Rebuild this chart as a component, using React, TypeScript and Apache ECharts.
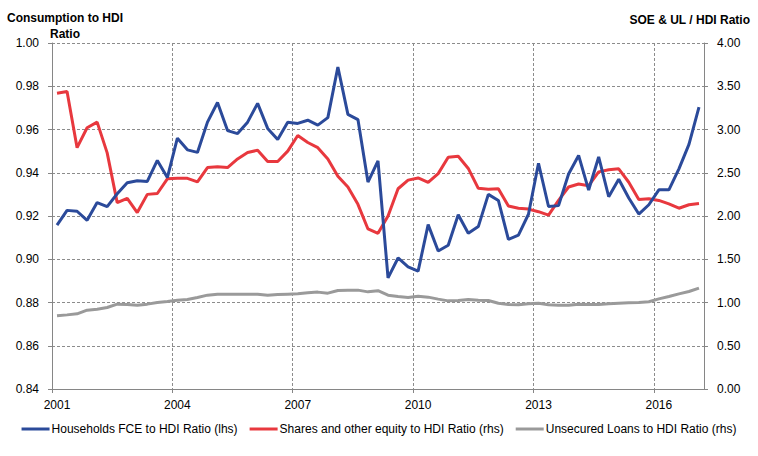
import React, { useEffect, useRef } from "react";
import * as echarts from "echarts";

const firstYear = 2001;
const yearLabels = ["2001", "2004", "2007", "2010", "2013", "2016"];

// Households FCE to HDI Ratio (lhs), quarterly 2001 Q1 - 2017 Q1
const householdsFce = [
  0.9158, 0.9226, 0.9222, 0.918, 0.9262, 0.9243, 0.9303, 0.9354, 0.9363, 0.936,
  0.9457, 0.9378, 0.956, 0.9506, 0.9494, 0.9634, 0.9725, 0.9595, 0.9581, 0.9634,
  0.9721, 0.9605, 0.9554, 0.9634, 0.9628, 0.9643, 0.962, 0.9655, 0.9889, 0.967,
  0.9646, 0.9357, 0.9455, 0.8914, 0.9006, 0.8965, 0.8945, 0.916, 0.9038, 0.9065,
  0.9206, 0.912, 0.9151, 0.93, 0.9272, 0.9092, 0.9112, 0.9208, 0.9444, 0.9244,
  0.9248, 0.9394, 0.948, 0.932, 0.9473, 0.9289, 0.937, 0.9283, 0.9209, 0.9252,
  0.9321, 0.9321, 0.9418, 0.9531, 0.9703,
];

// Shares and other equity to HDI Ratio (rhs)
const sharesEquity = [
  3.42, 3.44, 2.79, 3.02, 3.085, 2.73, 2.155, 2.205, 2.04, 2.25,
  2.26, 2.43, 2.435, 2.435, 2.395, 2.56, 2.57, 2.56, 2.66, 2.735,
  2.76, 2.63, 2.63, 2.75, 2.93, 2.85, 2.79, 2.66, 2.46, 2.335,
  2.135, 1.85, 1.8, 2.0, 2.315, 2.415, 2.44, 2.39, 2.49, 2.68,
  2.69, 2.55, 2.32, 2.31, 2.315, 2.115, 2.09, 2.08, 2.05, 2.01,
  2.18, 2.335, 2.37, 2.35, 2.51, 2.535, 2.545, 2.39, 2.19, 2.2,
  2.18, 2.14, 2.09, 2.13, 2.145,
];

// Unsecured Loans to HDI Ratio (rhs)
const unsecuredLoans = [
  0.846, 0.857, 0.869, 0.911, 0.923, 0.942, 0.981, 0.977, 0.969, 0.981,
  1.0, 1.012, 1.027, 1.035, 1.058, 1.085, 1.096, 1.096, 1.096, 1.096,
  1.096, 1.085, 1.092, 1.096, 1.1, 1.112, 1.12, 1.108, 1.139, 1.143,
  1.143, 1.123, 1.137, 1.085, 1.069, 1.058, 1.073, 1.062, 1.039, 1.019,
  1.023, 1.035, 1.027, 1.023, 0.992, 0.977, 0.973, 0.985, 0.992, 0.973,
  0.969, 0.969, 0.981, 0.977, 0.977, 0.985, 0.992, 0.996, 1.0, 1.008,
  1.042, 1.069, 1.1, 1.127, 1.166,
];

const quarters = householdsFce.map(
  (_, i) => `${firstYear + Math.floor(i / 4)} Q${(i % 4) + 1}`
);

const toPoints = (vals: number[]) => vals.map((v, i) => [i + 0.5, v]);

const FONT = "Liberation Sans";
const AXIS_COLOR = "#868686";
const GRID_COLOR = "#8c8c8c";

export default function App() {
  const ref = useRef<HTMLDivElement>(null);

  useEffect(() => {
    document.body.style.margin = "0";
    if (!ref.current) return;
    const chart = echarts.init(ref.current, null, { renderer: "svg" });
    const axisLabelStyle = { color: "#000", fontFamily: FONT, fontSize: 12 };
    chart.setOption({
      animation: false,
      textStyle: { fontFamily: FONT },
      grid: { left: 52, right: 54, top: 43, bottom: 67, containLabel: false },
      graphic: [
        {
          type: "text",
          x: 65,
          y: 10,
          style: {
            text: "Consumption to HDI\nRatio",
            align: "center",
            verticalAlign: "top",
            font: `bold 12px ${FONT}`,
            fill: "#000",
            lineHeight: 16,
          },
        },
        {
          type: "text",
          x: 750,
          y: 14,
          style: {
            text: "SOE & UL / HDI Ratio",
            align: "right",
            verticalAlign: "top",
            font: `bold 12px ${FONT}`,
            fill: "#000",
          },
        },
      ],
      legend: {
        bottom: 16,
        left: "center",
        icon: "rect",
        itemWidth: 28,
        itemHeight: 3,
        itemGap: 12,
        textStyle: { fontFamily: FONT, fontSize: 12, color: "#000", padding: [0, 0, 0, -3] },
        data: [
          "Households FCE to HDI Ratio (lhs)",
          "Shares and other equity to HDI Ratio (rhs)",
          "Unsecured Loans to HDI Ratio (rhs)",
        ],
      },
      tooltip: { show: false },
      xAxis: {
        type: "value",
        min: 0,
        max: quarters.length,
        interval: 12,
        axisLine: { show: true, lineStyle: { color: AXIS_COLOR, width: 1 } },
        axisTick: { show: true, length: 4, lineStyle: { color: AXIS_COLOR } },
        axisLabel: {
          ...axisLabelStyle,
          margin: 10,
          padding: [0, 0, 0, 10],
          showMaxLabel: false,
          formatter: (v: number) => {
            const idx = Math.round(v / 12);
            return v % 12 === 0 && idx < yearLabels.length ? yearLabels[idx] : "";
          },
        },
        splitLine: {
          show: true,
          lineStyle: { color: GRID_COLOR, type: [3, 2], width: 1 },
        },
      },
      yAxis: [
        {
          type: "value",
          min: 0.84,
          max: 1.0,
          interval: 0.02,
          position: "left",
          axisLine: { show: true, lineStyle: { color: AXIS_COLOR, width: 1 } },
          axisTick: { show: true, length: 4, lineStyle: { color: AXIS_COLOR } },
          axisLabel: {
            ...axisLabelStyle,
            margin: 13,
            formatter: (v: number) => v.toFixed(2),
          },
          splitLine: {
            show: true,
            lineStyle: { color: GRID_COLOR, type: [3, 2], width: 1 },
          },
        },
        {
          type: "value",
          min: 0,
          max: 4,
          interval: 0.5,
          position: "right",
          axisLine: { show: true, lineStyle: { color: AXIS_COLOR, width: 1 } },
          axisTick: { show: true, length: 4, lineStyle: { color: AXIS_COLOR } },
          axisLabel: {
            ...axisLabelStyle,
            margin: 13,
            formatter: (v: number) => v.toFixed(2),
          },
          splitLine: { show: false },
        },
      ],
      series: [
        {
          name: "Households FCE to HDI Ratio (lhs)",
          type: "line",
          yAxisIndex: 0,
          data: toPoints(householdsFce),
          showSymbol: false,
          symbol: "none",
          lineStyle: { color: "#2B4A9A", width: 3 },
          itemStyle: { color: "#2B4A9A" },
          z: 3,
        },
        {
          name: "Shares and other equity to HDI Ratio (rhs)",
          type: "line",
          yAxisIndex: 1,
          data: toPoints(sharesEquity),
          showSymbol: false,
          symbol: "none",
          lineStyle: { color: "#E8383E", width: 3 },
          itemStyle: { color: "#E8383E" },
          z: 2,
        },
        {
          name: "Unsecured Loans to HDI Ratio (rhs)",
          type: "line",
          yAxisIndex: 1,
          data: toPoints(unsecuredLoans),
          showSymbol: false,
          symbol: "none",
          lineStyle: { color: "#9A9A9A", width: 3 },
          itemStyle: { color: "#9A9A9A" },
          z: 1,
        },
      ],
    });
    return () => chart.dispose();
  }, []);

  return <div ref={ref} style={{ width: 758, height: 456 }} />;
}
